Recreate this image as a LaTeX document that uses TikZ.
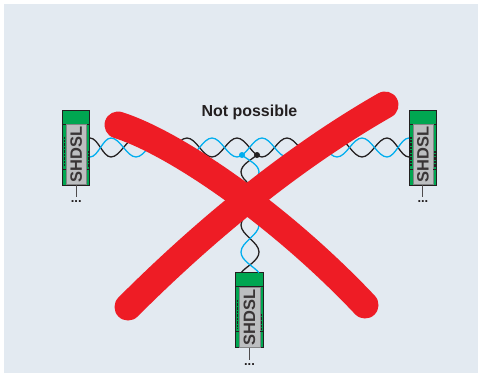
\documentclass[tikz,border=0pt]{standalone}
\usepackage{fontspec}
\setmainfont{Liberation Sans}
\definecolor{bgc}{HTML}{E3EAF1}
\definecolor{devg}{HTML}{00A651}
\definecolor{devk}{HTML}{231F20}
\definecolor{labg}{HTML}{BCBEC0}
\definecolor{wireb}{HTML}{00AEEF}
\definecolor{xred}{HTML}{EE1C25}
\tikzset{
  devbody/.style={draw=devk,fill=devg,line width=1pt,minimum width=27.5bp,minimum height=75bp,inner sep=0pt,outer sep=0pt},
  devlabel/.style={fill=labg,draw=labg!70!black,line width=.3pt,minimum width=60bp,minimum height=20.5bp,inner sep=0pt,text=devk!90!white,rotate=90,font=\bfseries\fontsize{16.5}{16.5}\selectfont},
  devtop/.style={draw=devk,fill=devg,line width=1pt,minimum width=27.5bp,minimum height=14bp,inner sep=0pt,outer sep=0pt},
  tail/.style={draw=devk!80!white,line width=1pt},
  dots/.style={font=\bfseries\fontsize{13}{13}\selectfont,text=devk,inner sep=0pt},
  wk/.style={draw=devk,line width=1.3pt},
  wb/.style={draw=wireb,line width=1.3pt},
  wh/.style={out=0,in=180,looseness=.74},
  wv/.style={out=-90,in=90,looseness=.77},
  jk/.style={circle,fill=devk,inner sep=0pt,minimum size=6bp},
  jb/.style={circle,fill=wireb,inner sep=0pt,minimum size=6bp},
  cross/.style={draw=xred,line width=27bp,line cap=round},
  title/.style={font=\bfseries\fontsize{16}{16}\selectfont,text=devk,inner sep=0pt}
}
\newcommand{\device}[3]{% name, x center, y top
  \node[devbody,anchor=north] (#1) at (#2,#3) {};
  \node[devtop,anchor=north] (#1t) at (#2,#3) {};
  \node[devlabel] (#1l) at ([yshift=-44.5bp]#1.north) {SHDSL};
  \draw[devk,line width=.6pt] ([xshift=-13.5bp,yshift=-59bp]#1.north) -- ([xshift=-10.3bp,yshift=-59bp]#1.north)
    ([xshift=10.3bp,yshift=-59bp]#1.north) -- ([xshift=13.5bp,yshift=-59bp]#1.north);
  \draw[devk,line width=1.2pt,dash pattern=on .8pt off .6pt]
    ([xshift=-12bp,yshift=-27bp]#1.north) -- ([xshift=-12bp,yshift=-55bp]#1.north)
    ([xshift=12bp,yshift=-41bp]#1.north) -- ([xshift=12bp,yshift=-57bp]#1.north);
  \coordinate (#1e) at ([yshift=-12bp]#1.south);
  \draw[tail] (#1.south) -- (#1e);
  \node[dots] (#1d) at ([yshift=-17bp]#1.south) {...};
}
\begin{document}
\begin{tikzpicture}[x=1bp,y=-1bp]
\useasboundingbox (0,0) rectangle (480,377);
\fill[white] (0,0) rectangle (480,377);
\fill[bgc] (4,4) rectangle (478,373);
\node[title] (ttl) at (249.5,112) {Not possible};
\device{L}{76.2}{110}
\device{R}{422.9}{110}
\device{B}{249.5}{272.7}
\coordinate (jk) at (257,155);
\coordinate (jb) at (242,155);
% horizontal pair
\draw[wk] (90,138) to[wh] (111,157) to[wh] (136,138) to[wh] (161,157) to[wh] (187,138) to[wh] (212,157) to[wh] (237,138) to[wh] (262,157) to[wh] (287,138) to[wh] (312,157) to[wh] (337,138) to[wh] (362,157) to[wh] (387,138) to[wh] (409,157);
\draw[wb] (90,157) to[wh] (111,138) to[wh] (136,157) to[wh] (161,138) to[wh] (187,157) to[wh] (212,138) to[wh] (237,157) to[wh] (262,138) to[wh] (287,157) to[wh] (312,138) to[wh] (337,157) to[wh] (362,138) to[wh] (387,157) to[wh] (409,138);
% vertical pair
\draw[wk] (jk) to[out=-140,in=90,looseness=.8] (241,172) to[wv] (259,198) to[wv] (241,225) to[wv] (259,252) to[out=-90,in=50,looseness=.8] (241,272.7);
\draw[wb] (jb) to[out=-40,in=90,looseness=.8] (259,172) to[wv] (241,198) to[wv] (259,225) to[wv] (241,252) to[out=-90,in=130,looseness=.8] (259,272.7);
\node[jk] (jkd) at (jk) {};
\node[jb] (jbd) at (jb) {};
% red cross
\draw[cross] (118,125) .. controls (175,143) and (280,215) .. (365,305);
\draw[cross] (128,307) .. controls (190,245) and (280,165) .. (385,105);
\end{tikzpicture}
\end{document}
